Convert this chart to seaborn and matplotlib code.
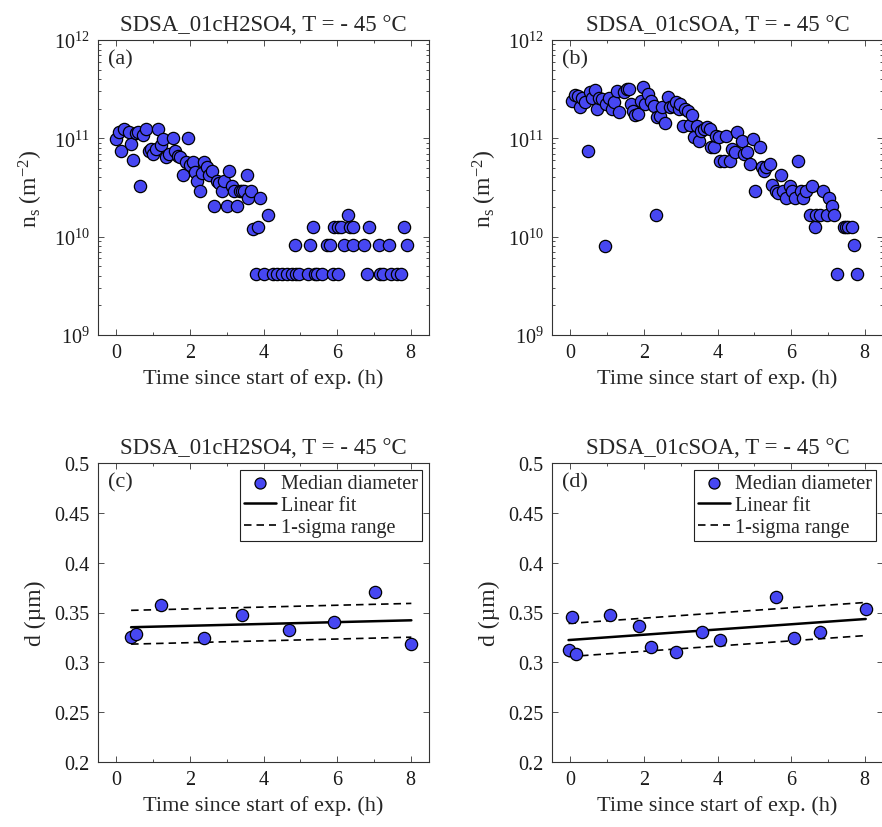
import numpy as np
import pandas as pd
import matplotlib
matplotlib.use("Agg")
import matplotlib.pyplot as plt
from matplotlib.ticker import LogLocator, NullFormatter, MultipleLocator, FixedLocator
import seaborn as sns

# ---------------- data ----------------
# (a) SDSA_01cH2SO4 : ice-nucleation active site density vs time
a_time = [0.0, 0.07, 0.13, 0.2, 0.33, 0.4, 0.46, 0.54, 0.6, 0.65, 0.71, 0.8, 0.875, 0.94,
          1.0, 1.07, 1.14, 1.2, 1.27, 1.34, 1.43, 1.54, 1.6, 1.68, 1.74, 1.8, 1.88, 1.95,
          2.0, 2.07, 2.13, 2.19, 2.26, 2.32, 2.39, 2.46, 2.52, 2.59, 2.66, 2.73, 2.79, 2.86,
          2.93, 3.0, 3.06, 3.13, 3.19, 3.29, 3.35, 3.41, 3.48, 3.54, 3.59, 3.66, 3.72, 3.86,
          3.91, 4.12,
          3.79, 4.0, 4.27, 4.375, 4.51, 4.64, 4.78, 4.89, 4.97, 5.2, 5.4, 5.45, 5.6, 5.89,
          6.03, 6.81, 7.16, 7.25, 7.48, 7.63, 7.75,
          4.87, 5.27, 5.73, 5.8, 6.2, 6.43, 6.74, 7.14, 7.41, 7.9,
          5.34, 5.91, 6.03, 6.12, 6.34, 6.43, 6.875, 7.81,
          6.29]
a_ns = [9.8e10, 1.15e11, 7.4e10, 1.23e11, 1.15e11, 8.7e10, 6.0e10, 1.12e11, 1.17e11, 3.3e10,
        1.07e11, 1.23e11, 7.4e10, 7.8e10, 6.9e10, 7.8e10, 1.23e11, 8.5e10, 9.8e10, 6.5e10,
        6.9e10, 1.0e11, 7.4e10, 6.6e10, 6.5e10, 4.2e10, 5.8e10, 1.0e11, 5.3e10, 5.7e10,
        4.5e10, 3.7e10, 2.9e10, 4.4e10, 5.7e10, 5.1e10, 4.2e10, 4.6e10, 2.05e10, 3.7e10,
        3.55e10, 2.9e10, 3.7e10, 2.05e10, 4.7e10, 3.3e10, 2.9e10, 2.05e10, 2.9e10, 2.9e10,
        2.9e10, 4.2e10, 2.5e10, 2.9e10, 1.2e10, 1.25e10, 2.5e10, 1.67e10,
        4.2e9, 4.2e9, 4.2e9, 4.2e9, 4.2e9, 4.2e9, 4.2e9, 4.2e9, 4.2e9, 4.2e9, 4.2e9,
        4.2e9, 4.2e9, 4.2e9, 4.2e9, 4.2e9, 4.2e9, 4.2e9, 4.2e9, 4.2e9, 4.2e9,
        8.3e9, 8.3e9, 8.3e9, 8.3e9, 8.3e9, 8.3e9, 8.3e9, 8.3e9, 8.3e9, 8.3e9,
        1.25e10, 1.25e10, 1.25e10, 1.25e10, 1.25e10, 1.25e10, 1.25e10, 1.25e10,
        1.67e10]

# (b) SDSA_01cSOA
b_time = [0.04, 0.13, 0.2, 0.26, 0.31, 0.4, 0.49, 0.53, 0.6, 0.67, 0.73, 0.79, 0.87, 0.95,
          0.96, 1.04, 1.12, 1.19, 1.26, 1.31, 1.45, 1.54, 1.6, 1.65, 1.71, 1.76, 1.85, 1.92,
          1.98, 2.03, 2.12, 2.19, 2.26, 2.32, 2.35, 2.43, 2.49, 2.56, 2.65, 2.7, 2.79, 2.875,
          2.94, 2.99, 3.05, 3.12, 3.19, 3.26, 3.32, 3.37, 3.44, 3.5, 3.56, 3.63, 3.72, 3.79,
          3.83, 3.9, 3.97, 4.04, 4.08, 4.17, 4.24, 4.33, 4.39, 4.48, 4.54, 4.66, 4.72, 4.81,
          4.88, 4.97, 5.02, 5.15, 5.2, 5.26, 5.31, 5.42, 5.49, 5.58, 5.64, 5.73, 5.78, 5.85,
          5.96, 6.02, 6.12, 6.2, 6.27, 6.33, 6.4, 6.51, 6.58, 6.65, 6.69, 6.78, 6.875, 6.98,
          7.04, 7.1, 7.17, 7.26, 7.43, 7.49, 7.56, 7.67, 7.72, 7.79]
b_ns = [2.42e11, 2.76e11, 2.67e11, 2.07e11, 2.55e11, 2.36e11, 7.5e10, 2.94e11, 2.55e11, 3.13e11,
        1.99e11, 2.55e11, 2.51e11, 8.1e9, 2.23e11, 2.55e11, 1.99e11, 2.36e11, 3.05e11, 1.87e11,
        2.94e11, 3.17e11, 3.17e11, 2.23e11, 1.91e11, 1.73e11, 1.77e11, 2.42e11, 3.3e11, 2.23e11,
        2.82e11, 2.42e11, 2.15e11, 1.66e10, 1.64e11, 1.68e11, 2.07e11, 1.43e11, 2.61e11, 2.07e11,
        2.15e11, 2.32e11, 1.99e11, 2.23e11, 1.32e11, 1.99e11, 1.91e11, 1.37e11, 1.73e11, 1.02e11,
        1.35e11, 9.5e10, 1.2e11, 1.24e11, 1.29e11, 1.24e11, 8.1e10, 8.1e10, 1.06e11, 1.02e11,
        5.9e10, 5.9e10, 1.06e11, 5.9e10, 7.8e10, 7.2e10, 1.15e11, 9.3e10, 6.9e10, 7.2e10,
        5.5e10, 9.8e10, 2.9e10, 8.1e10, 5.1e10, 4.7e10, 5.1e10, 5.5e10, 3.35e10, 2.9e10,
        2.8e10, 4.2e10, 2.9e10, 2.5e10, 3.3e10, 2.9e10, 2.5e10, 5.9e10, 2.9e10, 2.5e10,
        2.9e10, 1.66e10, 3.3e10, 1.25e10, 1.66e10, 1.66e10, 2.9e10, 1.66e10, 2.5e10, 2.07e10,
        1.66e10, 4.2e9, 1.25e10, 1.25e10, 1.25e10, 1.25e10, 8.3e9, 4.2e9]

# (c) median diameter, SDSA_01cH2SO4
c_time = [0.4, 0.54, 1.2, 2.39, 3.41, 4.7, 5.91, 7.02, 8.02]
c_diam = [0.3256, 0.3283, 0.3574, 0.3246, 0.3473, 0.3323, 0.3406, 0.3701, 0.3182]

# (d) median diameter, SDSA_01cSOA
d_time = [-0.05, 0.05, 0.16, 1.07, 1.87, 2.18, 2.87, 3.57, 4.08, 5.6, 6.09, 6.8, 8.03]
d_diam = [0.3122, 0.3457, 0.3082, 0.3473, 0.3363, 0.3156, 0.3099, 0.3306, 0.3222,
          0.3657, 0.3246, 0.3306, 0.354]

titles = ["SDSA_01cH2SO4, T = - 45 °C", "SDSA_01cSOA, T = - 45 °C"]
panel_tags = ["(a)", "(b)", "(c)", "(d)"]
xlabel = "Time since start of exp. (h)"

# ---------------- style ----------------
sns.set_style("ticks")
plt.rcParams["font.family"] = ["Liberation Serif", "DejaVu Serif"]
plt.rcParams["mathtext.fontset"] = "custom"
plt.rcParams["mathtext.rm"] = "Liberation Serif"
plt.rcParams["mathtext.it"] = "Liberation Serif:italic"
plt.rcParams["mathtext.bf"] = "Liberation Serif:bold"

FACE = "#4747f2"
AX_COLOR = "#333333"
TICK_FS = 14.5
LABEL_FS = 16
TITLE_FS = 16.5

W, H = 882, 828
fig = plt.figure(figsize=(W / 100, H / 100), dpi=100)


def rect(left, top, right, bottom):
    return [left / W, 1 - bottom / H, (right - left) / W, (bottom - top) / H]


ax_a = fig.add_axes(rect(98, 41, 429, 336))
ax_b = fig.add_axes(rect(552, 41, 883, 336))
ax_c = fig.add_axes(rect(98, 464, 429, 763))
ax_d = fig.add_axes(rect(552, 464, 883, 763))


def style_axes(ax):
    for s in ax.spines.values():
        s.set_color(AX_COLOR)
        s.set_linewidth(0.8)
    ax.tick_params(which="both", direction="in", top=True, right=True,
                   colors=AX_COLOR, labelcolor="#1a1a1a", labelsize=TICK_FS, width=0.6)
    ax.tick_params(which="major", length=4.5, pad=6)
    ax.tick_params(which="minor", length=2.5)
    ax.set_xlim(-0.5, 8.5)
    ax.xaxis.set_major_locator(FixedLocator([0, 2, 4, 6, 8]))
    ax.xaxis.set_minor_locator(FixedLocator([1, 3, 5, 7]))
    ax.set_xlabel(xlabel, fontsize=LABEL_FS, labelpad=4)


scatter_kw = dict(s=78, color=FACE, edgecolor="black", linewidth=0.9, zorder=3)

# ---- top row: n_s on log axis ----
for ax, t, ns, title, tag in [(ax_a, a_time, a_ns, titles[0], panel_tags[0]),
                              (ax_b, b_time, b_ns, titles[1], panel_tags[1])]:
    ax.set_yscale("log")
    df = pd.DataFrame({"time": t, "ns": ns})
    sns.scatterplot(data=df, x="time", y="ns", ax=ax, legend=False, **scatter_kw)
    style_axes(ax)
    ax.set_ylim(1e9, 1e12)
    ax.yaxis.set_major_locator(LogLocator(base=10, numticks=10))
    ax.yaxis.set_minor_locator(LogLocator(base=10, subs=np.arange(2, 10), numticks=20))
    ax.yaxis.set_minor_formatter(NullFormatter())
    ax.set_ylabel(r"n$_\mathregular{s}$ (m$^\mathregular{-2}$)", fontsize=LABEL_FS + 1, labelpad=6)
    ax.set_title(title, fontsize=TITLE_FS, pad=7)
    ax.text(0.03, 0.97, tag, transform=ax.transAxes, va="top", ha="left", fontsize=LABEL_FS)

# ---- bottom row: median diameter with linear fit ----
for ax, t, d, title, tag in [(ax_c, c_time, c_diam, titles[0], panel_tags[2]),
                             (ax_d, d_time, d_diam, titles[1], panel_tags[3])]:
    t_arr = np.asarray(t)
    d_arr = np.asarray(d)
    slope, icpt = np.polyfit(t_arr, d_arr, 1)
    resid = d_arr - (slope * t_arr + icpt)
    sigma = np.std(resid, ddof=1)
    tt = np.array([t_arr.min(), t_arr.max()])
    fit = pd.DataFrame({"time": tt, "fit": slope * tt + icpt,
                        "hi": slope * tt + icpt + sigma, "lo": slope * tt + icpt - sigma})

    sns.scatterplot(x=t_arr, y=d_arr, ax=ax, label="Median diameter", **scatter_kw)
    sns.lineplot(data=fit, x="time", y="fit", ax=ax, color="black", linewidth=1.8,
                 label="Linear fit", zorder=2)
    sns.lineplot(data=fit, x="time", y="hi", ax=ax, color="black", linewidth=1.2,
                 linestyle=(0, (4.5, 3)), label="1-sigma range", zorder=2)
    sns.lineplot(data=fit, x="time", y="lo", ax=ax, color="black", linewidth=1.2,
                 linestyle=(0, (4.5, 3)), label="_nolegend_", zorder=2)
    style_axes(ax)
    ax.set_ylim(0.2, 0.5)
    ax.yaxis.set_major_locator(MultipleLocator(0.05))
    ax.yaxis.set_major_formatter(plt.FuncFormatter(lambda v, p: f"{v:.2f}".rstrip("0")))
    ax.set_ylabel("d (µm)", fontsize=LABEL_FS + 1, labelpad=6)
    ax.set_title(title, fontsize=TITLE_FS, pad=7)
    ax.text(0.03, 0.97, tag, transform=ax.transAxes, va="top", ha="left", fontsize=LABEL_FS)
    leg = ax.legend(loc="upper right", fontsize=14.5, frameon=True, fancybox=False,
                    edgecolor="#222222", framealpha=1, borderpad=0.2, labelspacing=0.15,
                    handlelength=1.6, handletextpad=0.25, borderaxespad=0.35,
                    markerscale=0.9)
    leg.get_frame().set_linewidth(0.8)

fig.savefig("out.png", dpi=100)
